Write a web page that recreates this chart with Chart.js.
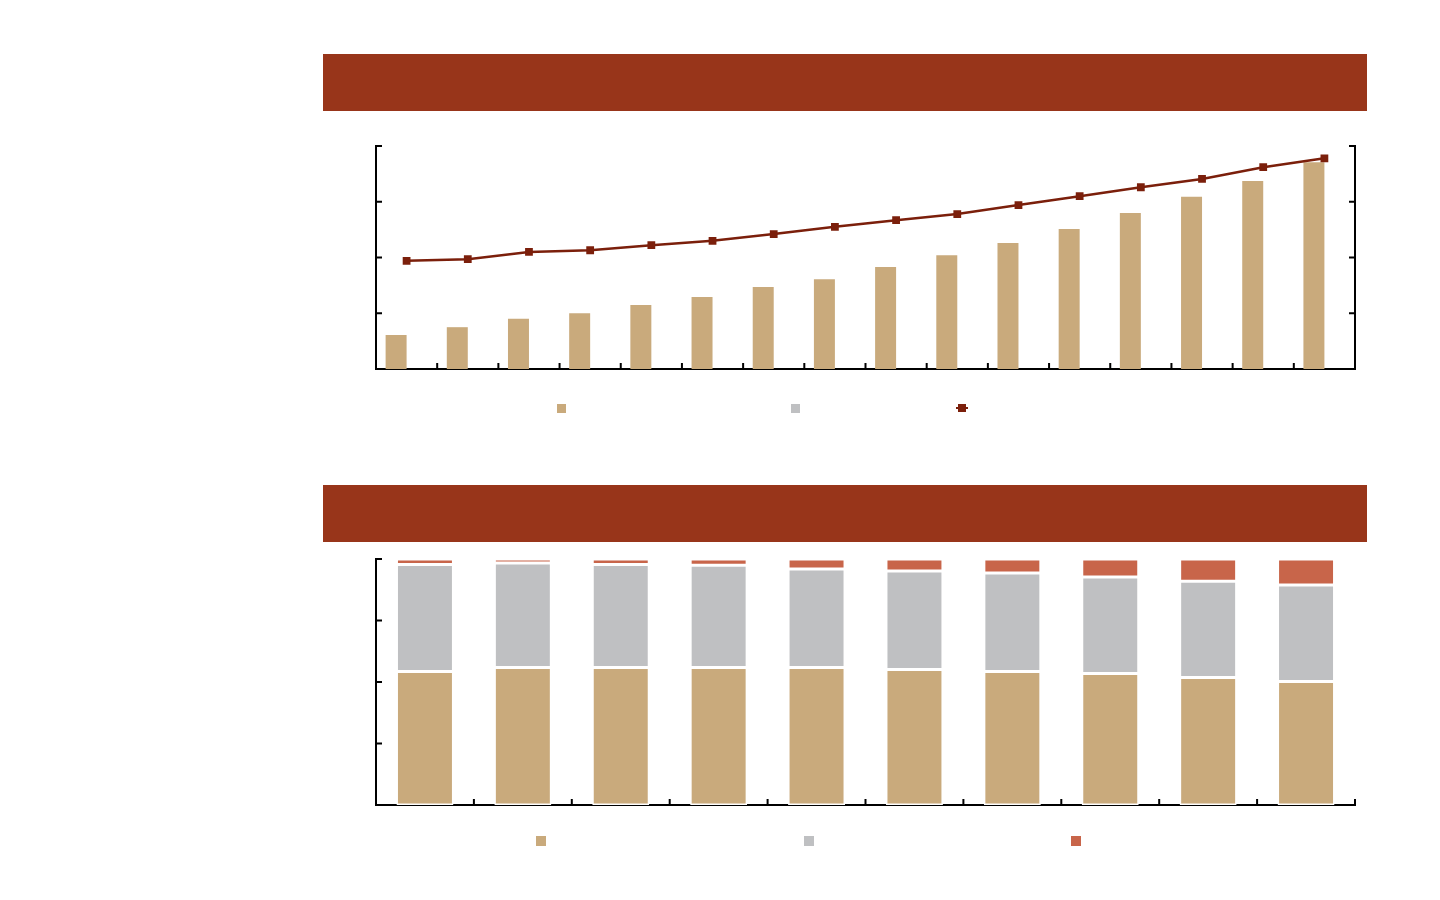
<!DOCTYPE html>
<html lang="en">
<head>
<meta charset="UTF-8">
<title>Charts</title>
<script src="https://cdn.jsdelivr.net/npm/chart.js"></script>
<style>
    body { margin: 0; background: #fff; width: 1440px; height: 900px; position: relative; overflow: hidden; font-family: "Liberation Sans", Arial, sans-serif; }
    .titlebar { position: absolute; left: 323px; width: 1044px; height: 57px; background: #98351a; }
    .box { position: absolute; }
    .sw { position: absolute; }
</style>
</head>
<body>
    <div class="titlebar" style="top:54px"></div>
    <div class="box" style="left:366px; top:136px; width:999px; height:243px;">
        <canvas id="chart1"></canvas>
    </div>
    <div id="legend1"></div>

    <div class="titlebar" style="top:485px"></div>
    <div class="box" style="left:366px; top:549px; width:999px; height:266px;">
        <canvas id="chart2"></canvas>
    </div>
    <div id="legend2"></div>

<script>
// chart 1 - bars (left axis) and line (right axis)
const cats1 = ['1', '2', '3', '4', '5', '6', '7', '8', '9', '10', '11', '12', '13', '14', '15', '16'];
const barsA = [0.61, 0.75, 0.90, 1.00, 1.15, 1.29, 1.47, 1.61, 1.83, 2.04, 2.26, 2.51, 2.80, 3.09, 3.37, 3.71];
const barsB = [0, 0, 0, 0, 0, 0, 0, 0, 0, 0, 0, 0, 0, 0, 0, 0];
const lineC = [1.94, 1.97, 2.10, 2.13, 2.22, 2.30, 2.42, 2.55, 2.67, 2.78, 2.94, 3.10, 3.26, 3.41, 3.62, 3.78];

// chart 2 - 100% stacked shares
const cats2 = ['1', '2', '3', '4', '5', '6', '7', '8', '9', '10'];
const shareA = [54.3, 55.9, 55.9, 55.9, 55.9, 55.1, 54.3, 53.5, 51.8, 50.2];
const shareB = [43.5, 42.5, 41.9, 41.6, 40.0, 40.0, 40.0, 39.2, 39.2, 39.2];
const shareC = [2.2, 1.6, 2.2, 2.5, 4.1, 4.9, 5.7, 7.3, 9.0, 10.6];

const TAN = '#c9aa7c';
const GREY = '#bfc0c2';
const RUST = '#c8654a';
const DARK = '#7b1f0b';

// small tick marks pointing into the plot
const innerTicks = {
    id: 'innerTicks',
    afterDatasetsDraw(chart) {
        const ctx = chart.ctx;
        const len = 6;
        ctx.save();
        ctx.strokeStyle = '#000';
        ctx.lineWidth = 2;
        Object.values(chart.scales).forEach(scale => {
            ctx.beginPath();
            if (scale.axis === 'x') {
                const n = scale.getLabels().length;
                for (let i = 0; i <= n; i++) {
                    const x = scale.getPixelForValue(i - 0.5);
                    ctx.moveTo(x, scale.top);
                    ctx.lineTo(x, scale.top - len);
                }
            } else {
                const left = scale.position === 'left';
                const edge = left ? scale.right : scale.left;
                scale.ticks.forEach((t, i) => {
                    const y = scale.getPixelForTick(i);
                    ctx.moveTo(edge, y);
                    ctx.lineTo(edge + (left ? len : -len), y);
                });
            }
            ctx.stroke();
        });
        ctx.restore();
    }
};

function axis(extra) {
    return Object.assign({
        grid: { display: false, drawTicks: false },
        ticks: { display: false },
        border: { display: true, color: '#000', width: 2 }
    }, extra);
}

new Chart(document.getElementById('chart1'), {
    type: 'bar',
    data: {
        labels: cats1,
        datasets: [
            { type: 'line', data: lineC, yAxisID: 'y1', borderColor: DARK, backgroundColor: DARK, borderWidth: 2.5,
              pointStyle: 'rect', pointRadius: 5.5, pointBorderWidth: 0, order: 0 },
            { data: barsA, backgroundColor: TAN, yAxisID: 'y', order: 1 },
            { data: barsB, backgroundColor: GREY, yAxisID: 'y', order: 2 }
        ]
    },
    options: {
        responsive: true,
        maintainAspectRatio: false,
        animation: false,
        layout: { padding: 10 },
        datasets: { bar: { categoryPercentage: 0.686, barPercentage: 1 } },
        plugins: { legend: { display: false }, tooltip: { enabled: false } },
        scales: {
            x: axis({ offset: true }),
            y: axis({ position: 'left', min: 0, max: 4, ticks: { display: false, stepSize: 1 } }),
            y1: axis({ position: 'right', min: 0, max: 4, ticks: { display: false, stepSize: 1 } })
        }
    },
    plugins: [innerTicks]
});

new Chart(document.getElementById('chart2'), {
    type: 'bar',
    data: {
        labels: cats2,
        datasets: [
            { data: shareA, backgroundColor: TAN },
            { data: shareB, backgroundColor: GREY },
            { data: shareC, backgroundColor: RUST }
        ]
    },
    options: {
        responsive: true,
        maintainAspectRatio: false,
        animation: false,
        layout: { padding: 10 },
        datasets: { bar: { categoryPercentage: 0.582, barPercentage: 1, borderColor: '#fff', borderWidth: 1.5, borderSkipped: false } },
        plugins: { legend: { display: false }, tooltip: { enabled: false } },
        scales: {
            x: axis({ offset: true, stacked: true }),
            y: axis({ stacked: true, min: 0, max: 100, ticks: { display: false, stepSize: 25 } })
        }
    },
    plugins: [innerTicks]
});

// legends: marker positions only, text in the source is not shown
function legend(id, items) {
    const root = document.getElementById(id);
    items.forEach(it => {
        const d = document.createElement('div');
        d.className = 'sw';
        if (it.line) {
            d.style.cssText = `left:${it.x - 6}px; top:${it.y - 1}px; width:12px; height:2px; background:${it.color};`;
            const m = document.createElement('div');
            m.className = 'sw';
            m.style.cssText = `left:${it.x - 4}px; top:${it.y - 4}px; width:8px; height:8px; background:${it.color};`;
            root.appendChild(m);
        } else {
            d.style.cssText = `left:${it.x - it.s / 2}px; top:${it.y - it.s / 2}px; width:${it.s}px; height:${it.s}px; background:${it.color};`;
        }
        root.appendChild(d);
    });
}

legend('legend1', [
    { x: 561.5, y: 408, s: 9, color: TAN },
    { x: 795.5, y: 408, s: 9, color: GREY },
    { x: 961.5, y: 408, color: DARK, line: true }
]);
legend('legend2', [
    { x: 540.5, y: 840.5, s: 10, color: TAN },
    { x: 808.5, y: 840.5, s: 10, color: GREY },
    { x: 1075.5, y: 840.5, s: 10, color: RUST }
]);
</script>
</body>
</html>
